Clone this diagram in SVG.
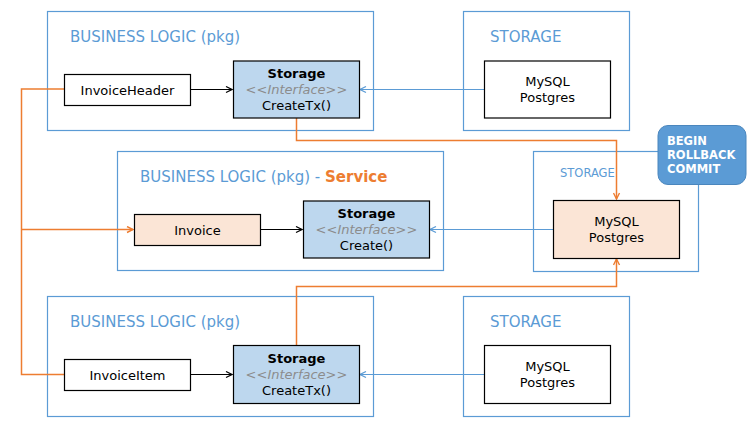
<svg xmlns="http://www.w3.org/2000/svg" width="752" height="427" viewBox="0 0 752 427">
<style>
text{font-family:"DejaVu Sans","Liberation Sans",sans-serif;}
.pkg{fill:#fff;stroke:#5b9bd5;stroke-width:1.2;}
.ttl{font-size:15px;fill:#5b9bd5;}
.box{fill:#fff;stroke:#000;stroke-width:1.2;}
.peach{fill:#fbe5d6;stroke:#000;stroke-width:1.2;}
.iface{fill:#bdd7ee;stroke:#000;stroke-width:1.2;}
.t13{font-size:13px;fill:#000;text-anchor:middle;}
.b13{font-size:13px;font-weight:bold;fill:#000;text-anchor:middle;}
.it{font-size:13px;font-style:italic;fill:#8c8c8c;text-anchor:middle;}
.cb{fill:none;stroke:#000;stroke-width:1.2;}
.cl{fill:none;stroke:#5b9bd5;stroke-width:1.2;}
.co{fill:none;stroke:#ed7d31;stroke-width:1.5;}
</style>
<defs>
<marker id="ab" markerWidth="8" markerHeight="8" refX="7" refY="4" orient="auto" markerUnits="userSpaceOnUse"><path d="M1,1 L7,4 L1,7" fill="none" stroke="#000" stroke-width="1.2"/></marker>
<marker id="al" markerWidth="8" markerHeight="8" refX="7" refY="4" orient="auto" markerUnits="userSpaceOnUse"><path d="M1,1 L7,4 L1,7" fill="none" stroke="#5b9bd5" stroke-width="1.2"/></marker>
<marker id="ao" markerWidth="8" markerHeight="8" refX="7" refY="4" orient="auto" markerUnits="userSpaceOnUse"><path d="M1,1 L7,4 L1,7" fill="none" stroke="#ed7d31" stroke-width="1.4"/></marker>
</defs>

<g id="pkg-top">
<rect class="pkg" x="47.5" y="11.5" width="326" height="119"/>
<text class="ttl" x="70" y="42">BUSINESS LOGIC (pkg)</text>
</g>
<g id="storage-top">
<rect class="pkg" x="463.5" y="11.5" width="166" height="119"/>
<text class="ttl" x="490" y="42">STORAGE</text>
</g>
<g id="pkg-mid">
<rect class="pkg" x="117.5" y="151.5" width="326" height="119"/>
<text class="ttl" x="140" y="182">BUSINESS LOGIC (pkg) - <tspan fill="#ed7d31" font-weight="bold">Service</tspan></text>
</g>
<g id="storage-mid">
<rect class="pkg" x="533.5" y="151.5" width="165" height="120"/>
<text x="560" y="177" font-size="11.5" fill="#5b9bd5">STORAGE</text>
</g>
<g id="pkg-bot">
<rect class="pkg" x="47.5" y="296.5" width="326" height="120"/>
<text class="ttl" x="70" y="327">BUSINESS LOGIC (pkg)</text>
</g>
<g id="storage-bot">
<rect class="pkg" x="463.5" y="296.5" width="166" height="120"/>
<text class="ttl" x="490" y="327">STORAGE</text>
</g>

<g id="connectors">
<path class="co" d="M64,89 H21.5 V374.5 H64"/>
<path class="co" d="M21.5,229.5 H133" marker-end="url(#ao)"/>
<path class="co" d="M296.5,118 V140.5 H616.5 V199" marker-end="url(#ao)"/>
<path class="co" d="M296.5,345 V286.5 H616.5 V259" marker-end="url(#ao)"/>
<path class="cb" d="M190,89.5 H232" marker-end="url(#ab)"/>
<path class="cb" d="M260,229.5 H302" marker-end="url(#ab)"/>
<path class="cb" d="M190,374.5 H232" marker-end="url(#ab)"/>
<path class="cl" d="M484,89.5 H360" marker-end="url(#al)"/>
<path class="cl" d="M553,229.5 H430" marker-end="url(#al)"/>
<path class="cl" d="M484,374.5 H360" marker-end="url(#al)"/>
</g>

<g id="invoice-header">
<rect class="box" x="64.5" y="74.5" width="126" height="31"/>
<text class="t13" x="127.5" y="95">InvoiceHeader</text>
</g>
<g id="storage-iface-top">
<rect class="iface" x="233.5" y="61" width="126" height="57"/>
<text class="b13" x="296.5" y="78">Storage</text>
<text class="it" x="296.5" y="94">&lt;&lt;Interface&gt;&gt;</text>
<text class="t13" x="296.5" y="110">CreateTx()</text>
</g>
<g id="mysql-top">
<rect class="box" x="484.5" y="61" width="126" height="57"/>
<text class="t13" x="547.5" y="86">MySQL</text>
<text class="t13" x="547.5" y="102">Postgres</text>
</g>
<g id="invoice">
<rect class="peach" x="134.5" y="214.5" width="126" height="31"/>
<text class="t13" x="197.5" y="235">Invoice</text>
</g>
<g id="storage-iface-mid">
<rect class="iface" x="303.5" y="201" width="126" height="57"/>
<text class="b13" x="366.5" y="218">Storage</text>
<text class="it" x="366.5" y="234">&lt;&lt;Interface&gt;&gt;</text>
<text class="t13" x="366.5" y="250">Create()</text>
</g>
<g id="mysql-mid">
<rect class="peach" x="553.5" y="200.5" width="126" height="58"/>
<text class="t13" x="616.5" y="226">MySQL</text>
<text class="t13" x="616.5" y="242">Postgres</text>
</g>
<g id="tx-badge">
<rect x="658" y="125.5" width="88" height="59" rx="10" ry="10" fill="#5b9bd5" stroke="#4a86bd" stroke-width="1"/>
<text x="667" y="145" font-size="11.5" font-weight="bold" fill="#fff">BEGIN</text>
<text x="667" y="159" font-size="11.5" font-weight="bold" fill="#fff">ROLLBACK</text>
<text x="667" y="173" font-size="11.5" font-weight="bold" fill="#fff">COMMIT</text>
</g>
<g id="invoice-item">
<rect class="box" x="64.5" y="359.5" width="126" height="31"/>
<text class="t13" x="127.5" y="380">InvoiceItem</text>
</g>
<g id="storage-iface-bot">
<rect class="iface" x="233.5" y="345.5" width="126" height="58"/>
<text class="b13" x="296.5" y="363">Storage</text>
<text class="it" x="296.5" y="379">&lt;&lt;Interface&gt;&gt;</text>
<text class="t13" x="296.5" y="395">CreateTx()</text>
</g>
<g id="mysql-bot">
<rect class="box" x="484.5" y="345.5" width="126" height="58"/>
<text class="t13" x="547.5" y="371">MySQL</text>
<text class="t13" x="547.5" y="387">Postgres</text>
</g>
</svg>
